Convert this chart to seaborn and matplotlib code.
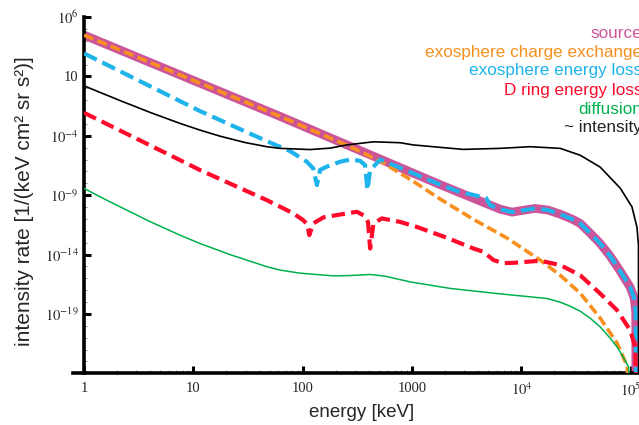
import numpy as np
import pandas as pd
import matplotlib
matplotlib.use("Agg")
import matplotlib.pyplot as plt
import matplotlib.ticker as mticker
import seaborn as sns

# ---- spectra: energy [keV] and intensity rate [1/(keV cm^2 sr s^2)] ----
source_E = [1, 62, 1807, 4198, 6397, 8240, 10620, 13380, 17580, 22650, 29170,
            34510, 42560, 52600, 64860, 80170, 98850, 107700, 111200, 112000]
source_I = [3.0e4, 4.3e-3, 7.7e-9, 3.2e-10, 6.6e-11, 3.7e-11, 5.5e-11, 7.6e-11,
            5.5e-11, 2.5e-11, 9.5e-12, 4.2e-12, 6.3e-13, 8.5e-14, 7.4e-15,
            4.0e-16, 1.8e-17, 2.1e-18, 1.4e-19, 1e-30]

charge_E = [1, 62, 272, 511, 1023, 1807, 3622, 7413, 14860, 22650, 34510,
            52600, 75160, 92900, 98850]
charge_I = [3.0e4, 4.3e-3, 1.2e-5, 7.4e-7, 1.5e-8, 4.7e-10, 9.5e-12, 2.4e-13,
            3.4e-15, 1.8e-16, 5.6e-18, 4.4e-20, 3.5e-22, 4.0e-24, 1e-30]

exo_loss_E = [1, 11.5, 47.0, 76.7, 109, 125, 135, 144, 166, 220, 272, 335, 372,
              391, 414, 459, 511, 1807, 2754, 3404, 4198, 4764, 5188, 6397,
              8240, 10620, 13380, 17580, 22650, 29170, 34510, 42560, 52600,
              64860, 80170, 98850, 107700, 111200, 112000]
exo_loss_I = [8.7e2, 1.2e-2, 3.5e-5, 5.1e-6, 6.5e-7, 1.8e-7, 7.1e-9, 1.3e-7,
              2.5e-7, 6.5e-7, 1.0e-6, 7.8e-7, 3.4e-7, 2.7e-9, 1.3e-7, 3.4e-7,
              1.0e-6, 7.7e-9, 1.8e-9, 1.2e-9, 7.6e-10, 5.6e-10, 1.4e-10, 6.6e-11,
              3.7e-11, 5.5e-11, 7.6e-11, 5.5e-11, 2.5e-11, 9.5e-12, 4.2e-12,
              6.3e-13, 8.5e-14, 7.4e-15, 4.0e-16, 1.8e-17, 2.1e-18, 1.4e-19, 1e-30]

dring_E = [1, 7.55, 11.5, 47.0, 82.2, 101, 110, 115, 125, 155, 253, 313, 372,
           396, 414, 444, 530, 778, 1107, 2080, 3648, 4498, 5559, 6823, 8472,
           14860, 22650, 34510, 52600, 74820, 98850, 109900, 115300]
dring_I = [8.7e-3, 8.9e-7, 1.3e-7, 3.8e-10, 2.9e-11, 7.9e-12, 3.6e-12, 4.3e-13,
           4.2e-12, 1.35e-11, 2.9e-11, 4.0e-11, 1.7e-11, 5.4e-12, 3.2e-14,
           4.2e-12, 1.1e-11, 5.6e-12, 2.1e-12, 2.6e-13, 3.2e-14, 1.7e-14,
           3.4e-15, 1.9e-15, 2.0e-15, 3.0e-15, 1.3e-15, 1.8e-16, 5.2e-18,
           2.1e-19, 4.3e-21, 1.7e-22, 1e-30]

diff_E = [1, 1.61, 4.02, 7.55, 11.5, 21.7, 47, 62.1, 94.6, 191, 272, 414, 567,
          961, 2234, 5970, 17100, 22650, 27930, 34510, 42560, 52600, 64860,
          74820, 83570, 95500, 101000]
diff_I = [3.7e-9, 3.8e-10, 5.9e-12, 4.3e-13, 8.5e-14, 9.8e-15, 9.5e-16, 4.9e-16,
          2.7e-16, 1.6e-16, 1.7e-16, 2.1e-16, 1.5e-16, 5.0e-17, 1.4e-17,
          5.2e-18, 2.0e-18, 9.8e-19, 4.5e-19, 1.7e-19, 4.4e-20, 8.1e-21,
          9.1e-22, 1.7e-22, 3.3e-23, 3.5e-24, 1e-30]

total_E = [1, 2.13, 4.02, 7.55, 11.5, 17.5, 29.7, 47, 62.1, 117, 178, 253, 444,
           778, 1023, 2936, 6397, 12050, 22650, 34510, 52600, 80170, 102600,
           114000, 117800, 118000]
total_I = [1.6, 9.3e-2, 9.3e-3, 1.1e-3, 3.0e-4, 9.3e-5, 2.7e-5, 1.2e-5, 8.7e-6,
           6.9e-6, 9.1e-6, 1.7e-5, 3.1e-5, 2.6e-5, 1.7e-5, 7.1e-6, 8.7e-6,
           1.2e-5, 8.7e-6, 2.3e-6, 2.3e-7, 3.9e-9, 1.05e-10, 2.1e-12, 6.2e-14,
           1e-30]

legend_labels = ["source", "exosphere charge exchange", "exosphere energy loss",
                 "D ring energy loss", "diffusion", "~ intensity"]
legend_colors = ["#CC5599", "#F7901E", "#1EB4EB", "#FF0A2A", "#00B050", "#222222"]

xtick_vals = [1, 10, 100, 1000, 1e4, 1e5]
xtick_labels = ["1", "10", "100", "1000", r"$10^{4}$", r"$10^{5}$"]
ytick_vals = [1e6, 1e1, 1e-4, 1e-9, 1e-14, 1e-19]
ytick_labels = [r"$10^{6}$", "10", r"$10^{-4}$", r"$10^{-9}$", r"$10^{-14}$", r"$10^{-19}$"]

# ---- style ----
sns.set_style("ticks")
plt.rcParams["font.family"] = ["Liberation Sans", "DejaVu Sans"]
plt.rcParams["mathtext.fontset"] = "stix"

fig = plt.figure(figsize=(6.39, 4.25), dpi=100)
ax = fig.add_axes([84 / 639, 51.7 / 425, 555 / 639, 356.3 / 425])


def draw(E, I, color, lw, ls="-", z=2):
    df = pd.DataFrame({"E": E, "I": I})
    sns.lineplot(data=df, x="E", y="I", ax=ax, sort=False, estimator=None,
                 color=color, linewidth=lw, linestyle=ls, zorder=z)


draw(source_E, source_I, legend_colors[0], 6.3, z=2)
draw(charge_E, charge_I, legend_colors[1], 2.6, (0, (2.8, 1.2)), z=3)
draw(exo_loss_E, exo_loss_I, legend_colors[2], 3.0, (0, (3.4, 1.5)), z=4)
draw(total_E, total_I, "black", 1.2, z=5)
draw(dring_E, dring_I, legend_colors[3], 3.0, (0, (3.2, 1.5)), z=6)
draw(diff_E, diff_I, legend_colors[4], 1.1, z=7)

ax.set_xscale("log")
ax.set_yscale("log")
ax.set_xlim(1, 10 ** 5.0759)
ax.set_ylim(1e-24, 1e6)

ax.set_xticks(xtick_vals)
ax.set_xticklabels(xtick_labels)
ax.xaxis.set_minor_locator(mticker.LogLocator(base=10, subs=np.arange(2, 10), numticks=100))
ax.xaxis.set_minor_formatter(mticker.NullFormatter())
ax.set_yticks(ytick_vals)
ax.set_yticklabels(ytick_labels)
ax.yaxis.set_minor_locator(mticker.LogLocator(base=10, subs=(1.0,), numticks=100))
ax.yaxis.set_minor_formatter(mticker.NullFormatter())

for lab in ax.get_xticklabels() + ax.get_yticklabels():
    lab.set_fontfamily("Liberation Serif")
    lab.set_fontsize(10.5)

ax.tick_params(axis="both", which="major", direction="in", length=5, width=2.2,
               color="black")
ax.tick_params(axis="both", which="minor", direction="in", length=2.5, width=0.7,
               color="#888888")
ax.tick_params(axis="x", which="major", pad=6)
ax.tick_params(axis="y", which="major", pad=4)

for side in ("top", "right"):
    ax.spines[side].set_visible(False)
for side in ("left", "bottom"):
    ax.spines[side].set_linewidth(2.6)
    ax.spines[side].set_color("black")
ax.spines["bottom"].set_bounds(0.79, 10 ** 5.0759)

ax.set_xlabel("energy [keV]", fontsize=13.5, labelpad=4)
ax.set_ylabel("intensity rate [1/(keV cm² sr s²)]", fontsize=15)
ax.yaxis.set_label_coords(-0.090, 0.4836)
ax.grid(False)

# right-aligned coloured key in the upper right corner
key_y = [33.3, 52.3, 71.0, 90.0, 109.0, 127.5]
for label, color, y in zip(legend_labels, legend_colors, key_y):
    fig.text(642 / 639, 1 - y / 425, label, ha="right", va="center",
             color=color, fontsize=12.3)

fig.savefig("out.png", dpi=100)
